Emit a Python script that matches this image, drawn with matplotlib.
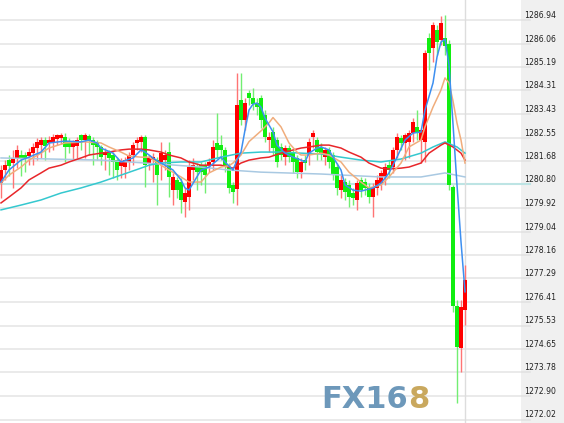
import matplotlib
matplotlib.use('Agg')
import matplotlib.pyplot as plt
import numpy as np

# OHLC of each bar (red = up, green = down)
opens = [1280.85, 1281.34, 1281.71, 1281.60, 1281.79, 1281.90, 1281.90, 1281.86, 1281.97, 1282.16,
         1282.27, 1282.46, 1282.35, 1282.39, 1282.50, 1282.54, 1282.57, 1282.42, 1282.20, 1282.24,
         1282.65, 1282.46, 1282.61, 1282.46, 1282.39, 1282.20, 1281.90, 1281.97, 1281.90, 1281.71,
         1281.49, 1281.45, 1281.64, 1281.90, 1282.35, 1282.39, 1282.57, 1281.60, 1281.71, 1281.71,
         1281.64, 1281.71, 1282.01, 1280.59, 1280.97, 1280.89, 1280.14, 1280.33, 1281.34, 1281.45,
         1281.52, 1281.52, 1281.52, 1281.64, 1282.35, 1282.27, 1282.09, 1281.45, 1280.78, 1280.63,
         1283.95, 1283.21, 1284.21, 1284.03, 1283.84, 1284.03, 1283.39, 1282.46, 1282.76, 1282.46,
         1282.20, 1281.82, 1282.16, 1281.97, 1281.79, 1281.26, 1281.71, 1281.90, 1282.57, 1282.46,
         1282.20, 1281.82, 1282.09, 1281.90, 1281.45, 1280.59, 1280.89, 1280.78, 1280.48, 1280.22,
         1280.97, 1280.89, 1280.70, 1280.33, 1280.67, 1280.85, 1281.08, 1281.52, 1281.45, 1282.09,
         1282.54, 1282.35, 1282.39, 1282.72, 1282.95, 1282.46, 1282.39, 1286.27, 1285.89, 1286.57,
         1286.19, 1286.27, 1286.04, 1280.70, 1276.26, 1274.69, 1276.11]
highs = [1281.52, 1281.71, 1281.90, 1282.09, 1282.27, 1282.09, 1282.01, 1282.16, 1282.35, 1282.54,
         1282.57, 1282.57, 1282.61, 1282.69, 1282.69, 1282.72, 1282.72, 1282.54, 1282.46, 1282.57,
         1282.69, 1282.72, 1282.69, 1282.57, 1282.46, 1282.27, 1282.16, 1282.09, 1282.01, 1281.82,
         1281.79, 1281.82, 1282.01, 1282.39, 1282.57, 1282.65, 1282.65, 1281.90, 1281.97, 1281.82,
         1282.39, 1282.09, 1282.39, 1281.23, 1281.08, 1281.04, 1280.67, 1281.71, 1281.79, 1281.60,
         1281.64, 1281.64, 1281.79, 1282.46, 1283.47, 1282.65, 1282.20, 1281.60, 1280.89, 1284.96,
         1284.96, 1284.03, 1284.33, 1284.40, 1284.03, 1284.14, 1283.58, 1282.76, 1282.95, 1282.57,
         1282.35, 1282.27, 1282.27, 1282.09, 1281.90, 1281.79, 1281.90, 1282.54, 1282.83, 1282.57,
         1282.35, 1282.20, 1282.20, 1282.01, 1281.60, 1281.15, 1281.04, 1280.97, 1280.67, 1280.97,
         1281.08, 1281.04, 1280.85, 1280.85, 1281.15, 1281.34, 1281.60, 1281.71, 1282.20, 1282.72,
         1282.65, 1282.72, 1282.83, 1283.28, 1283.58, 1282.91, 1285.82, 1286.45, 1286.87, 1286.75,
         1287.09, 1287.13, 1286.19, 1280.78, 1276.49, 1276.49, 1277.79]
lows = [1280.29, 1280.97, 1281.12, 1280.67, 1281.41, 1281.12, 1281.26, 1281.52, 1281.52, 1281.71,
        1281.79, 1281.71, 1282.01, 1282.09, 1282.27, 1282.31, 1281.64, 1281.97, 1281.71, 1281.79,
        1282.09, 1281.79, 1281.90, 1281.52, 1281.71, 1281.52, 1281.34, 1281.15, 1281.04, 1280.97,
        1281.04, 1281.04, 1281.34, 1281.52, 1282.09, 1282.01, 1280.70, 1281.34, 1280.89, 1280.03,
        1280.97, 1281.34, 1280.33, 1280.03, 1280.29, 1279.73, 1279.58, 1279.85, 1280.97, 1280.59,
        1280.78, 1280.48, 1281.26, 1281.34, 1281.79, 1281.71, 1281.26, 1280.48, 1280.11, 1280.03,
        1283.02, 1282.83, 1283.77, 1283.58, 1283.39, 1282.91, 1282.39, 1282.01, 1281.90, 1281.45,
        1281.71, 1281.52, 1281.64, 1281.23, 1281.04, 1281.04, 1281.34, 1281.52, 1282.16, 1281.71,
        1281.71, 1281.52, 1281.41, 1280.97, 1280.41, 1280.29, 1280.22, 1279.96, 1280.03, 1279.85,
        1280.33, 1280.41, 1280.11, 1279.58, 1280.41, 1280.59, 1280.78, 1281.04, 1281.23, 1281.79,
        1282.09, 1281.71, 1281.79, 1282.39, 1282.46, 1281.60, 1281.64, 1285.07, 1285.37, 1285.63,
        1286.01, 1285.63, 1280.59, 1276.04, 1272.64, 1273.80, 1275.55]
closes = [1281.34, 1281.52, 1281.49, 1281.79, 1282.09, 1281.79, 1281.79, 1282.01, 1282.20, 1282.39,
          1282.46, 1282.24, 1282.46, 1282.57, 1282.65, 1282.65, 1282.20, 1282.20, 1282.35, 1282.46,
          1282.46, 1282.65, 1282.42, 1282.27, 1282.20, 1281.82, 1282.01, 1281.79, 1281.64, 1281.34,
          1281.64, 1281.71, 1281.90, 1282.27, 1282.46, 1282.57, 1281.52, 1281.79, 1281.82, 1281.15,
          1281.97, 1281.90, 1281.08, 1281.08, 1280.59, 1280.22, 1280.48, 1281.45, 1281.52, 1281.26,
          1281.26, 1281.15, 1281.64, 1282.20, 1282.09, 1282.09, 1281.45, 1280.67, 1280.52, 1283.77,
          1283.21, 1283.84, 1284.03, 1283.80, 1283.69, 1283.21, 1282.57, 1282.57, 1282.16, 1281.64,
          1281.90, 1282.16, 1281.82, 1281.64, 1281.26, 1281.64, 1281.60, 1282.39, 1282.72, 1282.01,
          1281.97, 1282.09, 1281.64, 1281.15, 1280.67, 1280.97, 1280.52, 1280.33, 1280.29, 1280.85,
          1280.59, 1280.67, 1280.33, 1280.67, 1280.97, 1281.23, 1281.45, 1281.34, 1282.09, 1282.57,
          1282.35, 1282.65, 1282.72, 1283.13, 1282.76, 1282.83, 1285.71, 1285.71, 1286.75, 1286.12,
          1286.83, 1285.97, 1280.78, 1276.26, 1274.73, 1276.22, 1277.23]

# moving average lines, read at selected bars
ma5_bars = [0, 2, 5, 7, 10, 12, 16, 20, 22, 24, 25, 28, 30, 33, 35, 36, 38, 40, 41, 43,
            45, 46, 47, 50, 52, 55, 56, 58, 59, 60, 61, 62, 63, 64, 65, 66, 68, 69, 71, 73,
            75, 76, 77, 79, 80, 82, 83, 85, 86, 88, 90, 93, 95, 97, 99, 101, 103, 105, 106, 108,
            109, 110, 111, 112, 113, 114, 115, 116]
ma5 = [1280.89, 1281.34, 1281.71, 1281.82, 1282.01, 1282.35, 1282.42, 1282.39, 1282.46, 1282.35,
       1282.16, 1281.97, 1281.64, 1281.79, 1282.09, 1282.01, 1281.79, 1281.60, 1281.52, 1281.34,
       1280.97, 1280.67, 1280.59, 1281.34, 1281.45, 1281.82, 1281.64, 1281.34, 1281.71, 1282.01,
       1282.83, 1283.58, 1283.80, 1283.84, 1283.69, 1283.28, 1282.76, 1282.27, 1281.97, 1281.82,
       1281.71, 1281.64, 1281.97, 1282.16, 1282.20, 1282.09, 1281.82, 1281.34, 1280.78, 1280.59,
       1280.55, 1280.67, 1280.85, 1281.23, 1281.82, 1282.46, 1282.72, 1282.76, 1283.58, 1284.59,
       1285.56, 1286.12, 1286.23, 1285.26, 1283.06, 1280.78, 1278.66, 1276.79]

ma10_bars = [0, 2, 5, 7, 10, 12, 16, 21, 25, 27, 30, 32, 35, 37, 40, 42, 45, 47, 50, 52,
             55, 57, 58, 60, 62, 65, 67, 68, 70, 72, 74, 75, 77, 80, 82, 85, 87, 90, 92, 95,
             97, 100, 102, 105, 106, 108, 110, 111, 112, 113, 114, 115, 116]
ma10 = [1280.85, 1281.15, 1281.45, 1281.71, 1281.97, 1282.16, 1282.35, 1282.39, 1282.35, 1282.20,
        1282.01, 1281.86, 1281.82, 1281.82, 1281.52, 1281.34, 1281.08, 1280.89, 1280.89, 1281.23,
        1281.45, 1281.50, 1281.60, 1281.90, 1282.40, 1282.80, 1283.10, 1283.30, 1282.95, 1282.35,
        1282.01, 1281.90, 1281.90, 1281.97, 1281.90, 1281.64, 1281.26, 1280.89, 1280.67, 1280.78,
        1281.08, 1281.60, 1282.20, 1282.46, 1282.95, 1283.69, 1284.33, 1284.78, 1284.59, 1283.92,
        1283.09, 1282.46, 1281.60]

ma20_bars = [0, 2, 5, 7, 10, 12, 15, 17, 20, 22, 25, 27, 30, 32, 35, 37, 40, 42, 45, 47,
             50, 55, 58, 60, 62, 65, 67, 70, 72, 75, 77, 80, 82, 85, 87, 90, 92, 95, 97, 100,
             102, 105, 107, 110, 111, 113, 115, 116]
ma20 = [1280.11, 1280.33, 1280.67, 1280.97, 1281.23, 1281.41, 1281.52, 1281.64, 1281.79, 1281.90,
        1281.97, 1282.01, 1282.09, 1282.12, 1282.12, 1282.09, 1282.01, 1281.90, 1281.79, 1281.64,
        1281.52, 1281.52, 1281.41, 1281.60, 1281.71, 1281.79, 1281.82, 1281.97, 1282.05, 1282.16,
        1282.20, 1282.27, 1282.27, 1282.16, 1282.01, 1281.82, 1281.60, 1281.41, 1281.38, 1281.41,
        1281.45, 1281.60, 1281.97, 1282.27, 1282.35, 1282.20, 1281.97, 1281.71]

ma60_bars = [0, 5, 10, 15, 20, 25, 30, 35, 37, 40, 45, 50, 55, 60, 65, 70, 75, 80, 85, 90,
             95, 100, 105, 108, 111, 114, 116]
ma60 = [1279.85, 1280.03, 1280.22, 1280.48, 1280.67, 1280.89, 1281.15, 1281.41, 1281.52, 1281.60,
        1281.64, 1281.64, 1281.82, 1281.97, 1282.01, 1282.01, 1281.97, 1281.94, 1281.82, 1281.71,
        1281.64, 1281.75, 1281.97, 1282.20, 1282.39, 1282.20, 1281.97]

ma120_bars = [0, 25, 40, 50, 57, 65, 80, 95, 105, 111, 116]
ma120 = [1281.79, 1281.71, 1281.56, 1281.45, 1281.34, 1281.26, 1281.19, 1281.08, 1281.08, 1281.23, 1281.08]

price_levels = [1286.94, 1286.06, 1285.19, 1284.31, 1283.43, 1282.55, 1281.68, 1280.80, 1279.92,
                1279.04, 1278.16, 1277.29, 1276.41, 1275.53, 1274.65, 1273.78, 1272.90, 1272.02]
marked_level = 1280.80

opens = np.array(opens)
closes = np.array(closes)
highs = np.array(highs)
lows = np.array(lows)
x = np.arange(len(opens))
up = closes >= opens

fig = plt.figure(figsize=(5.64, 4.23), dpi=100)
ax = fig.add_axes([0, 0, 521 / 564, 1])
side = fig.add_axes([521 / 564, 0, 43 / 564, 1])

ylo, yhi = 1271.89, 1287.69
ax.set_ylim(ylo, yhi)
ax.set_xlim(-0.25, 130.0)
side.set_ylim(ylo, yhi)
side.set_xlim(0, 43)
side.set_facecolor('#f0f0f0')
for a in (ax, side):
    a.set_xticks([])
    a.set_yticks([])
    for s in a.spines.values():
        s.set_visible(False)

# grid
for v in price_levels:
    if v == marked_level:
        ax.axhline(v, color='#bde4e4', lw=1.5, zorder=0)
        side.plot([0, 9], [v, v], color='#bde4e4', lw=1.5)
    else:
        ax.axhline(v, color='#e6e6e6', lw=1.2, zorder=0)
        side.plot([0, 9], [v, v], color='#e2e2e2', lw=1.2)
    side.text(3, v + 0.17, f'{v:.2f}', fontsize=5.6, color='#222222',
              ha='left', va='center')

ax.axvline(x[-1], color='#dddddd', lw=1, zorder=0)

# watermark
ax.text(321 / 521, 15 / 423, 'FX16', transform=ax.transAxes, fontsize=22,
        fontweight='bold', color='#6d98ba', ha='left', va='baseline', zorder=1)
ax.text(408 / 521, 15 / 423, '8', transform=ax.transAxes, fontsize=22,
        fontweight='bold', color='#c9a85e', ha='left', va='baseline', zorder=1)

# candles
wick_cols = np.where(up, '#ff7474', '#72ee72')
body_cols = np.where(up, '#ff0000', '#11ee11')
ax.vlines(x, lows, highs, colors=wick_cols, lw=1, zorder=2)
bottom = np.minimum(opens, closes)
height = np.maximum(np.abs(closes - opens), 0.04)
ax.bar(x, height, bottom=bottom, width=1.15, color=body_cols, linewidth=0, zorder=3)

# moving averages
ax.plot(ma120_bars, ma120, color='#a9c9e2', lw=1.1, zorder=4)
ax.plot(ma60_bars, ma60, color='#35c8cf', lw=1.1, zorder=4)
ax.plot(ma20_bars, ma20, color='#e8262a', lw=1.1, zorder=4)
ax.plot(ma10_bars, ma10, color='#f0ad7c', lw=1.1, zorder=4)
ax.plot(ma5_bars, ma5, color='#3d8ff0', lw=1.1, zorder=5)

fig.savefig('out.png', dpi=100)
